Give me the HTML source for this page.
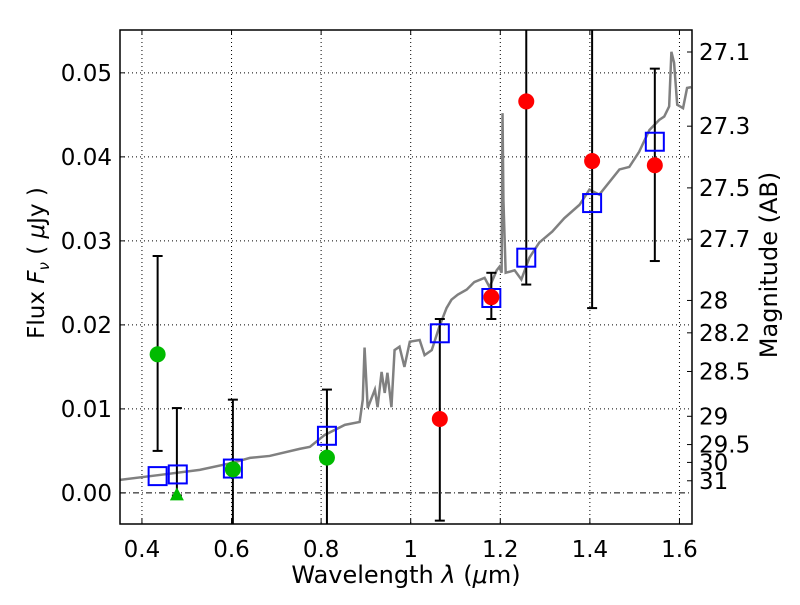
<!DOCTYPE html>
<html><head><meta charset="utf-8"><style>
body{margin:0;background:#fff}
svg text{font-family:"DejaVu Sans","Liberation Sans",sans-serif;fill:#000}
</style></head><body>
<svg id="chart" width="800" height="600"></svg>
<script>
const specLam=[0.351,0.440,0.529,0.601,0.641,0.685,0.752,0.775,0.808,0.853,0.886,0.893,0.897,0.904,0.920,0.926,0.935,0.942,0.948,0.957,0.964,0.975,0.986,0.998,1.020,1.031,1.047,1.064,1.080,1.091,1.105,1.125,1.142,1.165,1.176,1.192,1.198,1.203,1.205,1.207,1.212,1.232,1.247,1.265,1.287,1.316,1.343,1.377,1.399,1.421,1.466,1.488,1.510,1.533,1.555,1.566,1.577,1.582,1.588,1.595,1.608,1.617,1.626];
const specFlux=[.00155,.00214,.00274,.00357,.00417,.0044,.00524,.00548,.0069,.0081,.00845,.0111,.0173,.0101,.0123,.0102,.0144,.0119,.0143,.0102,.0170,.0174,.0150,.0180,.0182,.0164,.0170,.0198,.0220,.0230,.0236,.0242,.0251,.0256,.0245,.0265,.0269,.0262,.0452,.0349,.0262,.0265,.0254,.0280,.0298,.0311,.0327,.0343,.0361,.0355,.0385,.0388,.0406,.0432,.0444,.0448,.0460,.0525,.0512,.0462,.0458,.0482,.0483];
const modelLam=[0.435,0.480,0.603,0.813,1.065,1.180,1.258,1.405,1.545];
const modelFlux=[0.0020,0.0022,0.0029,0.0068,0.0190,0.0232,0.0280,0.0345,0.0418];
const greenLam=[0.435,0.603,0.813];
const greenFlux=[0.0165,0.0028,0.0042];
const greenLo=[0.0050,-0.0060,-0.0040];
const greenHi=[0.0282,0.0111,0.0123];
const limLam=[0.478];const limFlux=[-0.0003];const limHi=[0.0101];
const redLam=[1.065,1.180,1.258,1.405,1.545];
const redFlux=[0.0088,0.0233,0.0466,0.0395,0.0390];
const redLo=[-0.0033,0.0207,0.0248,0.0220,0.0276];
const redHi=[0.0207,0.0262,0.0700,0.0700,0.0505];
const xTicks=[0.4,0.6,0.8,1.0,1.2,1.4,1.6];
const xTickLabels=["0.4","0.6","0.8","1","1.2","1.4","1.6"];
const yTicks=[0,0.01,0.02,0.03,0.04,0.05];
const yTickLabels=["0.00","0.01","0.02","0.03","0.04","0.05"];
const magTicks=[27.1,27.3,27.5,27.7,28,28.2,28.5,29,29.5,30,31];
const magLabels=["27.1","27.3","27.5","27.7","28","28.2","28.5","29","29.5","30","31"];

const L=120,R=692,T=30,B=524;
const xmin=0.351,xmax=1.628,ymin=-0.0037,ymax=0.0551;
const X=v=>L+(v-xmin)/(xmax-xmin)*(R-L);
const Y=v=>B-(v-ymin)/(ymax-ymin)*(B-T);
const ns="http://www.w3.org/2000/svg";
const svg=document.getElementById('chart');
function mk(tag,attrs,parent){const e=document.createElementNS(ns,tag);for(const k in attrs)e.setAttribute(k,attrs[k]);(parent||svg).appendChild(e);return e;}
const clip=mk('clipPath',{id:'pc'});mk('rect',{x:L,y:T,width:R-L,height:B-T},clip);
xTicks.forEach((t,i)=>{
 const g=mk('line',{x1:X(t),x2:X(t),y1:T,y2:B,stroke:'#000','stroke-width':1,'stroke-dasharray':'1,3'});
 
 
 mk('line',{x1:X(t),x2:X(t),y1:B,y2:B-5,stroke:'#000'});mk('line',{x1:X(t),x2:X(t),y1:T,y2:T+5,stroke:'#000'});
 const tx=mk('text',{x:X(t),y:B+33,'font-size':23,'text-anchor':'middle'});tx.textContent=xTickLabels[i];
 
 
});
yTicks.forEach((t,i)=>{
 const g=mk('line',{x1:L,x2:R,y1:Y(t),y2:Y(t),stroke:'#000','stroke-width':1,'stroke-dasharray':t===0?'6,3,1,3':'1,3'});
 
 
 mk('line',{x1:L,x2:L+5,y1:Y(t),y2:Y(t),stroke:'#000'});
 const tx=mk('text',{x:L-8,y:Y(t)+8,'font-size':23,'text-anchor':'end'});tx.textContent=yTickLabels[i];
 
 
});
magTicks.forEach((m,i)=>{
 const f=Math.pow(10,(23.9-m)/2.5);const y=Y(f);
 mk('line',{x1:R-5,x2:R,y1:y,y2:y,stroke:'#000'});
 const tx=mk('text',{x:R+7,y:y+8,'font-size':23});tx.textContent=magLabels[i];
 
 
});
const gp=mk('g',{'clip-path':'url(#pc)'});
const sp=mk('polyline',{points:specLam.map((l,i)=>X(l)+','+Y(specFlux[i])).join(' '),fill:'none',stroke:'#808080','stroke-width':2.5},gp);


function ebar(x,lo,hi){
 const e=mk('g',{},gp);
 mk('line',{x1:X(x),x2:X(x),y1:Y(lo),y2:Y(hi),stroke:'#000','stroke-width':2},e);
 mk('line',{x1:X(x)-5,x2:X(x)+5,y1:Y(lo),y2:Y(lo),stroke:'#000','stroke-width':2},e);
 mk('line',{x1:X(x)-5,x2:X(x)+5,y1:Y(hi),y2:Y(hi),stroke:'#000','stroke-width':2},e);
 
 
}
greenLam.forEach((l,i)=>ebar(l,greenLo[i],greenHi[i]));
limLam.forEach((l,i)=>ebar(l,limFlux[i],limHi[i]));
redLam.forEach((l,i)=>ebar(l,redLo[i],redHi[i]));
modelLam.forEach((l,i)=>{
 const r=mk('rect',{x:X(l)-9,y:Y(modelFlux[i])-9,width:18,height:18,fill:'none',stroke:'#0000ff','stroke-width':2},gp);
 
 
});
greenLam.forEach((l,i)=>{
 const c=mk('circle',{cx:X(l),cy:Y(greenFlux[i]),r:8,fill:'#00bb00'},gp);
 
 
});
limLam.forEach((l,i)=>{
 const x=X(l),y=Y(limFlux[i]);
 const p=mk('polygon',{points:`${x},${y-8} ${x-7},${y+5} ${x+7},${y+5}`,fill:'#00bb00'},gp);
 
 
});
redLam.forEach((l,i)=>{
 const c=mk('circle',{cx:X(l),cy:Y(redFlux[i]),r:8,fill:'#ff0000'},gp);
 
 
});
const fr=mk('rect',{x:L,y:T,width:R-L,height:B-T,fill:'none',stroke:'#000','stroke-width':1.5});


const xl=mk('text',{x:406,y:583,'font-size':24,'text-anchor':'middle'});
xl.innerHTML='Wavelength  <tspan font-style="italic">λ</tspan> (<tspan font-style="italic">μ</tspan>m)';


const yl=mk('text',{x:0,y:0,'font-size':23,'text-anchor':'middle',transform:'translate(44,263) rotate(-90)'});
yl.innerHTML='Flux  <tspan font-style="italic">F</tspan><tspan font-style="italic" font-size="15" dy="5">ν</tspan><tspan dy="-5">  ( </tspan><tspan font-style="italic">μ</tspan>Jy )';


const rl=mk('text',{x:0,y:0,'font-size':24,'text-anchor':'middle',transform:'translate(777,265) rotate(-90)'});
rl.textContent='Magnitude (AB)';


</script>
</body></html>
